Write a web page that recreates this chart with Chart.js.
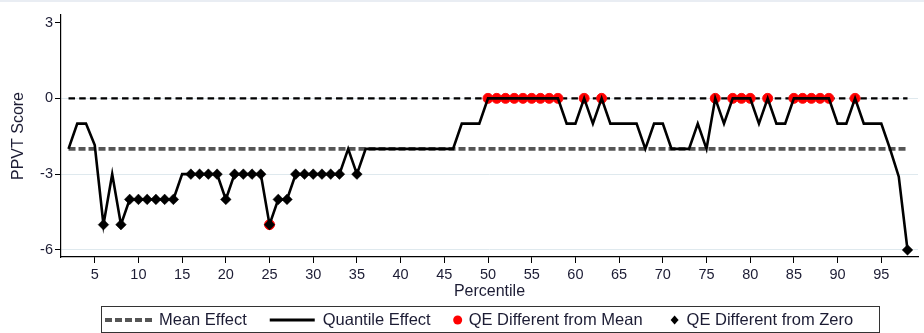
<!DOCTYPE html>
<html>
<head>
<meta charset="utf-8">
<script src="https://cdn.jsdelivr.net/npm/chart.js@4"></script>
<style>
  html, body { margin: 0; padding: 0; background: #ffffff; }
  #wrap { width: 924px; height: 333px; position: relative; }
</style>
</head>
<body>
<div id="wrap"><canvas id="chart" width="924" height="333"></canvas></div>
<script>
// Percentiles of the outcome distribution
const percentiles = [
  2, 3, 4, 5, 6, 7, 8, 9, 10, 11, 12, 13, 14, 15, 16, 17, 18, 19, 20, 21,
  22, 23, 24, 25, 26, 27, 28, 29, 30, 31, 32, 33, 34, 35, 36, 37, 38, 39, 40, 41,
  42, 43, 44, 45, 46, 47, 48, 49, 50, 51, 52, 53, 54, 55, 56, 57, 58, 59, 60, 61,
  62, 63, 64, 65, 66, 67, 68, 69, 70, 71, 72, 73, 74, 75, 76, 77, 78, 79, 80, 81,
  82, 83, 84, 85, 86, 87, 88, 89, 90, 91, 92, 93, 94, 95, 96, 97, 98
];

// Estimated quantile treatment effect at each percentile
const quantileEffect = [
  -2, -1, -1, -1.85, -5, -3, -5, -4, -4, -4, -4, -4, -4, -3, -3, -3, -3, -3, -4, -3,
  -3, -3, -3, -5, -4, -4, -3, -3, -3, -3, -3, -3, -2, -3, -2, -2, -2, -2, -2, -2,
  -2, -2, -2, -2, -2, -1, -1, -1, 0, 0, 0, 0, 0, 0, 0, 0, 0, -1, -1, 0,
  -1, 0, -1, -1, -1, -1, -2, -1, -1, -2, -2, -2, -1, -2, 0, -1, 0, 0, 0, -1,
  0, -1, -1, 0, 0, 0, 0, 0, -1, -1, 0, -1, -1, -1, -2, -3.1, -6
];

// Mean (OLS) effect
const meanEffect = -2;

// Percentiles where the quantile effect differs significantly from the mean
const diffFromMean = [25, 50, 51, 52, 53, 54, 55, 56, 57, 58, 61, 63, 76, 78, 79, 80, 82, 85, 86, 87, 88, 89, 92];

// Percentiles where the quantile effect differs significantly from zero
const diffFromZero = [6, 8, 9, 10, 11, 12, 13, 14, 16, 17, 18, 19, 20, 21, 22, 23, 24, 25, 26, 27, 28, 29, 30, 31, 32, 33, 35, 98];

// Axis tick labels
const xTicks = [5, 10, 15, 20, 25, 30, 35, 40, 45, 50, 55, 60, 65, 70, 75, 80, 85, 90, 95];
const yTicks = [-6, -3, 0, 3];

const legendLabels = ['Mean Effect', 'Quantile Effect', 'QE Different from Mean', 'QE Different from Zero'];

const FONT = "'Liberation Sans', Arial, Helvetica, sans-serif";
const TEXT = '#1c1c34';

const linePts = percentiles.map((p, i) => ({ x: p, y: quantileEffect[i] }));
const valueAt = p => quantileEffect[percentiles.indexOf(p)];
const meanPts = percentiles.map(p => ({ x: p, y: meanEffect }));
const zeroPts = percentiles.map(p => ({ x: p, y: 0 }));
const meanSigPts = diffFromMean.map(p => ({ x: p, y: valueAt(p) }));
const zeroSigPts = diffFromZero.map(p => ({ x: p, y: valueAt(p) }));

// thin light band along the top edge
const topBand = {
  id: 'topBand',
  beforeDraw(chart) {
    const ctx = chart.ctx;
    ctx.save();
    ctx.fillStyle = '#e9edf3';
    ctx.fillRect(0, 0, chart.width, 2);
    ctx.restore();
  }
};

// boxed legend row under the x-axis title
const boxLegend = {
  id: 'boxLegend',
  afterDraw(chart) {
    const ctx = chart.ctx;
    ctx.save();
    const top = 306.5, h = 26, left = 101.5, right = 879.5;
    ctx.strokeStyle = '#333';
    ctx.lineWidth = 1;
    ctx.strokeRect(left, top, right - left, h);
    const cy = top + h / 2 + 0.5;
    ctx.font = '16.5px ' + FONT;
    ctx.textBaseline = 'middle';
    ctx.textAlign = 'left';
    ctx.fillStyle = TEXT;
    let x = 105;

    // Mean effect sample
    ctx.beginPath();
    ctx.strokeStyle = '#555';
    ctx.lineWidth = 4;
    ctx.setLineDash([7, 3]);
    ctx.moveTo(x, cy);
    ctx.lineTo(x + 47, cy);
    ctx.stroke();
    ctx.setLineDash([]);
    x += 54;
    ctx.fillText(legendLabels[0], x, cy);
    x += ctx.measureText(legendLabels[0]).width + 23;

    // Quantile effect sample
    ctx.beginPath();
    ctx.strokeStyle = '#000';
    ctx.lineWidth = 3;
    ctx.moveTo(x, cy);
    ctx.lineTo(x + 45, cy);
    ctx.stroke();
    x += 53;
    ctx.fillText(legendLabels[1], x, cy);
    x += ctx.measureText(legendLabels[1]).width + 27;

    // red marker
    ctx.beginPath();
    ctx.fillStyle = '#ff0000';
    ctx.arc(x, cy, 4.5, 0, Math.PI * 2);
    ctx.fill();
    x += 11;
    ctx.fillStyle = TEXT;
    ctx.fillText(legendLabels[2], x, cy);
    x += ctx.measureText(legendLabels[2]).width + 32;

    // black diamond
    ctx.beginPath();
    ctx.fillStyle = '#000';
    ctx.moveTo(x, cy - 4.5);
    ctx.lineTo(x + 4, cy);
    ctx.lineTo(x, cy + 4.5);
    ctx.lineTo(x - 4, cy);
    ctx.closePath();
    ctx.fill();
    x += 12;
    ctx.fillStyle = TEXT;
    ctx.fillText(legendLabels[3], x, cy);
    ctx.restore();
  }
};

new Chart(document.getElementById('chart'), {
  type: 'line',
  data: {
    datasets: [
      {
        label: 'QE Different from Zero',
        data: zeroSigPts,
        showLine: false,
        pointStyle: 'rectRot',
        pointRadius: 5.3,
        pointBackgroundColor: '#000',
        pointBorderColor: '#000',
        pointBorderWidth: 0.5,
        order: 0
      },
      {
        label: 'Quantile Effect',
        data: linePts,
        borderColor: '#000',
        borderWidth: 2.6,
        pointRadius: 0,
        tension: 0,
        fill: false,
        order: 1
      },
      {
        label: 'QE Different from Mean',
        data: meanSigPts,
        showLine: false,
        pointStyle: 'circle',
        pointRadius: 5,
        pointBackgroundColor: '#ff0000',
        pointBorderColor: '#ff1010',
        pointBorderWidth: 1,
        order: 2
      },
      {
        label: 'Mean Effect',
        data: meanPts,
        borderColor: '#555555',
        borderWidth: 3.6,
        borderDash: [7, 3],
        pointRadius: 0,
        fill: false,
        order: 3
      },
      {
        label: 'Zero',
        data: zeroPts,
        borderColor: '#000',
        borderWidth: 2.4,
        borderDash: [6.5, 4.2],
        pointRadius: 0,
        fill: false,
        order: 4
      }
    ]
  },
  options: {
    responsive: false,
    animation: false,
    events: [],
    layout: { padding: { top: 15, right: 0, bottom: 0, left: 0 } },
    plugins: {
      legend: { display: false },
      tooltip: { enabled: false }
    },
    scales: {
      x: {
        type: 'linear',
        min: 1.14,
        max: 99.2,
        afterBuildTicks: s => { s.ticks = xTicks.map(v => ({ value: v })); },
        afterFit: s => { s.height = 76; },
        grid: {
          drawOnChartArea: false,
          drawTicks: true,
          tickLength: 6,
          tickColor: '#000',
          tickWidth: 1
        },
        border: { color: '#000', width: 1.2 },
        ticks: {
          autoSkip: false,
          maxRotation: 0,
          padding: 3,
          color: TEXT,
          font: { family: FONT, size: 14.5 },
          callback: v => String(v)
        },
        title: {
          display: true,
          text: 'Percentile',
          color: TEXT,
          font: { family: FONT, size: 16 },
          padding: { top: 0, bottom: 31.5 }
        }
      },
      y: {
        type: 'linear',
        min: -6.28,
        max: 3.3,
        afterBuildTicks: s => { s.ticks = yTicks.map(v => ({ value: v })); },
        afterFit: s => { s.width = 61; },
        grid: {
          color: ctx => (ctx.tick && ctx.tick.value === 3 ? 'rgba(0,0,0,0)' : '#dfe9ee'),
          lineWidth: 1,
          drawTicks: true,
          tickLength: 6,
          tickColor: '#000',
          tickWidth: 1
        },
        border: { color: '#000', width: 1.2 },
        ticks: {
          autoSkip: false,
          padding: 2,
          color: TEXT,
          font: { family: FONT, size: 14.5 },
          callback: v => String(v)
        },
        title: {
          display: true,
          text: 'PPVT Score',
          color: TEXT,
          font: { family: FONT, size: 16 },
          padding: { top: 8.7, bottom: 0 }
        }
      }
    }
  },
  plugins: [topBand, boxLegend]
});
</script>
</body>
</html>
